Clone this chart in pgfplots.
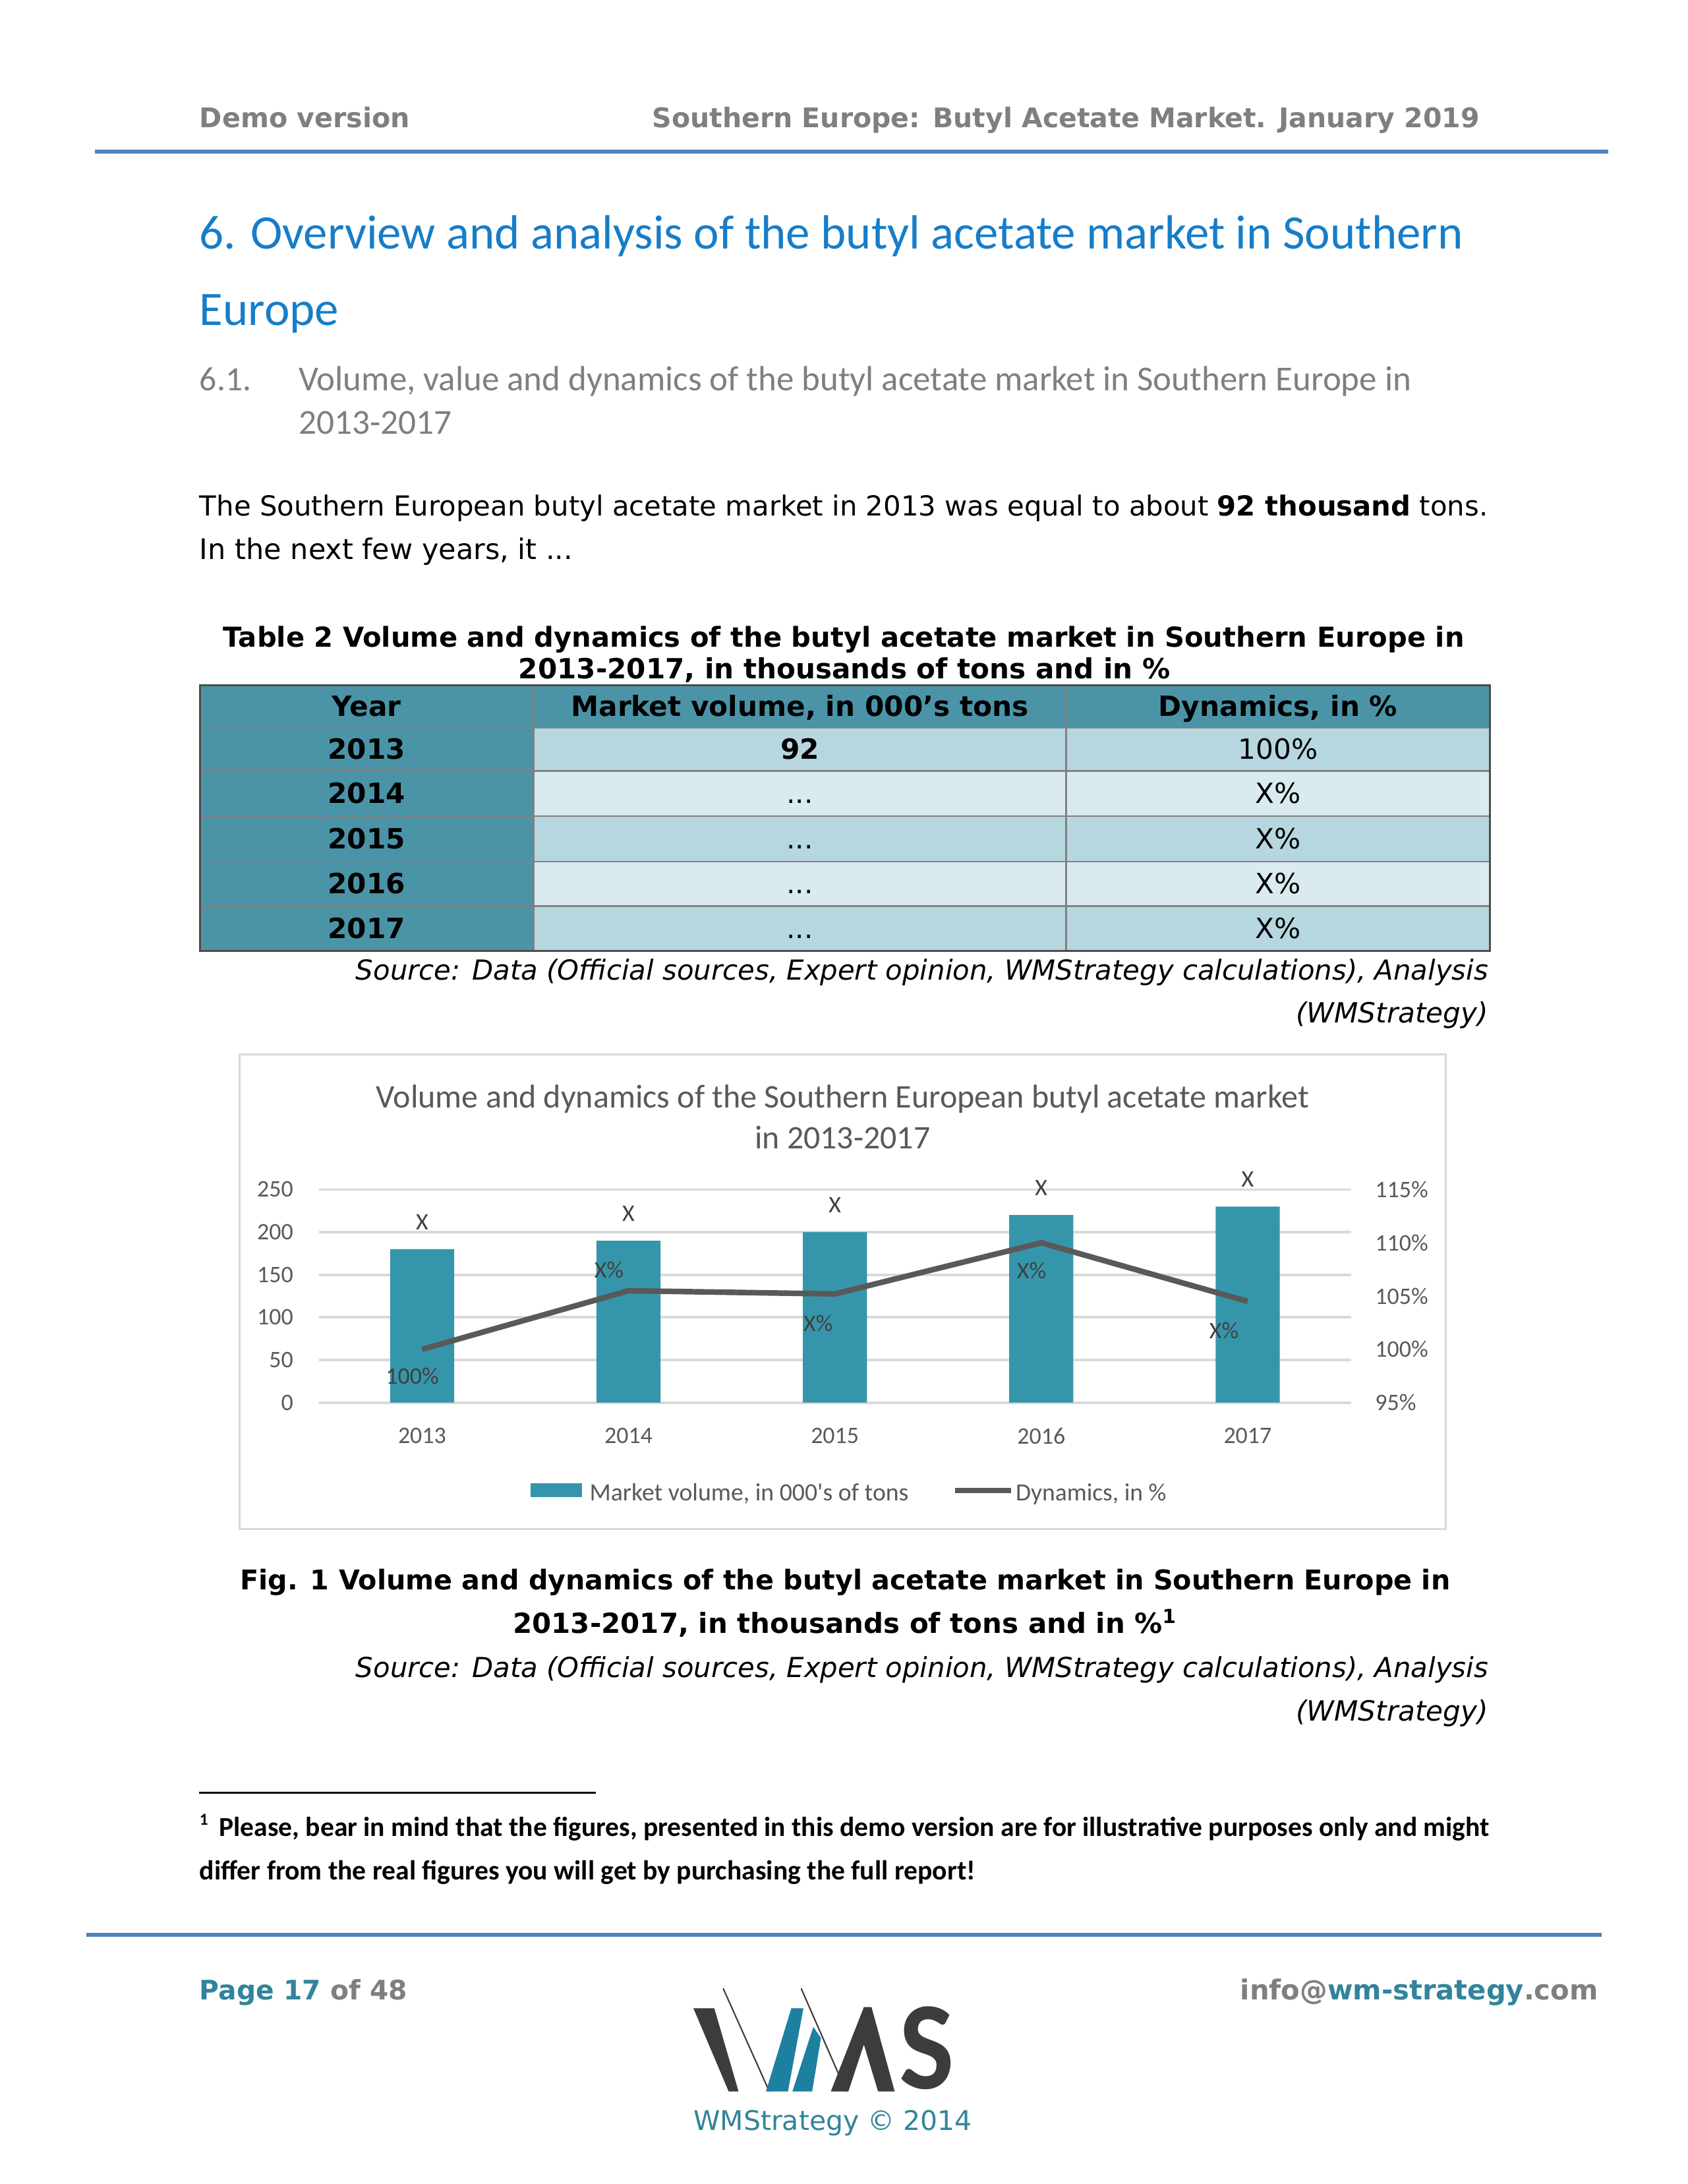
\documentclass[border=0pt]{standalone}
\usepackage{fontspec}
\usepackage{graphicx}
\usepackage{pgfplots}
\pgfplotsset{compat=1.18}
\setmainfont{DejaVu Sans}
\newfontfamily\calib{Carlito}
\definecolor{hdrgray}{RGB}{127,127,127}
\definecolor{rulec}{RGB}{79,129,189}
\definecolor{titleblue}{RGB}{22,125,200}
\definecolor{tabteal}{RGB}{75,148,168}
\definecolor{rowA}{RGB}{183,215,224}
\definecolor{rowB}{RGB}{218,235,239}
\definecolor{barc}{RGB}{53,150,171}
\definecolor{linec}{RGB}{89,89,89}
\definecolor{txtc}{RGB}{89,89,89}
\definecolor{lblc}{RGB}{64,64,64}
\definecolor{gridc}{RGB}{217,217,217}
\definecolor{footteal}{RGB}{49,132,155}
\definecolor{logodark}{RGB}{60,60,60}
\definecolor{logoteal}{RGB}{30,128,160}
\newdimen\unitw \unitw=0.5pt
\newcommand\TL[4]{\node[anchor=mid west,inner sep=0pt,yshift=-1pt] at (#1,#2) {\resizebox{#3\unitw}{!}{#4}};}
\newcommand\TR[4]{\node[anchor=mid east,inner sep=0pt,yshift=-1pt] at (#1,#2) {\resizebox{#3\unitw}{!}{#4}};}
\newcommand\TC[4]{\node[anchor=mid,inner sep=0pt,yshift=-1pt] at (#1,#2) {\resizebox{#3\unitw}{!}{#4}};}
\newcommand\tabfont{\fontsize{10}{12}\selectfont}
\newcommand\chfont{\calib\fontsize{8.5}{10}\selectfont}
\begin{document}
\begin{tikzpicture}
\begin{scope}[x=0.5pt,y=-0.5pt]
\fill[white] (0,0) rectangle (1212,1568);
% header
\TL{143}{84}{151}{\color{hdrgray}\bfseries Demo version}
\TL{468}{84}{594}{\color{hdrgray}\bfseries Southern Europe: Butyl Acetate Market. January 2019}
\draw[rulec, line width=1.5pt] (68,109) -- (1155,109);
% title
\TL{143}{171}{907}{\calib\color{titleblue}6. Overview and analysis of the butyl acetate market in Southern}
\TL{143}{226}{100}{\calib\color{titleblue}Europe}
\TL{143}{273}{37}{\calib\color{hdrgray}6.1.}
\TL{214}{273}{799}{\calib\color{hdrgray}Volume, value and dynamics of the butyl acetate market in Southern Europe in}
\TL{214}{304}{110}{\calib\color{hdrgray}2013-2017}
% body
\TL{143}{363}{925}{The Southern European butyl acetate market in 2013 was equal to about \textbf{92 thousand} tons.}
\TL{143}{394}{268}{In the next few years, it ...}
% table caption
\TL{160}{457}{891}{\bfseries Table 2 Volume and dynamics of the butyl acetate market in Southern Europe in}
\TL{372}{480}{468}{\bfseries 2013-2017, in thousands of tons and in \%}
% table
\fill[tabteal] (143.5,492.2) rectangle (1069.9,522.6);
\fill[tabteal] (143.5,522.6) rectangle (383.2,682.8);
\fill[rowA] (383.2,522.6) rectangle (1069.9,553.4);
\fill[rowB] (383.2,553.4) rectangle (1069.9,585.9);
\fill[rowA] (383.2,585.9) rectangle (1069.9,618.5);
\fill[rowB] (383.2,618.5) rectangle (1069.9,650.6);
\fill[rowA] (383.2,650.6) rectangle (1069.9,682.8);
\foreach \yy in {522.6,553.4,585.9,618.5,650.6}{\draw[gray, line width=0.6pt] (143.5,\yy) -- (1069.9,\yy);}
\foreach \xx in {383.2,765.5}{\draw[gray, line width=0.6pt] (\xx,492.2) -- (\xx,682.8);}
\draw[black!70, line width=0.7pt] (143.5,492.2) rectangle (1069.9,682.8);
\begin{scope}[every node/.style={anchor=base, inner sep=0pt, font=\tabfont}]
\node[font=\tabfont\bfseries] at (263.3,514.4) {Year};
\node[font=\tabfont\bfseries] at (574.4,514.4) {Market volume, in 000’s tons};
\node[font=\tabfont\bfseries] at (917.7,514.4) {Dynamics, in \%};
\node[font=\tabfont\bfseries] at (263.3,545) {2013};
\node[font=\tabfont\bfseries] at (263.3,576.6) {2014};
\node[font=\tabfont\bfseries] at (263.3,609.2) {2015};
\node[font=\tabfont\bfseries] at (263.3,641.5) {2016};
\node[font=\tabfont\bfseries] at (263.3,673.7) {2017};
\node[font=\tabfont\bfseries] at (574.4,545) {92};
\node at (574.4,576.6) {...};
\node at (574.4,609.2) {...};
\node at (574.4,641.5) {...};
\node at (574.4,673.7) {...};
\node at (917.7,545) {100\%};
\node at (917.7,576.6) {X\%};
\node at (917.7,609.2) {X\%};
\node at (917.7,641.5) {X\%};
\node at (917.7,673.7) {X\%};
\end{scope}
\TR{1069}{696}{813}{\itshape Source: Data (Official sources, Expert opinion, WMStrategy calculations), Analysis}
\TR{1069}{727}{138}{\itshape (WMStrategy)}
% chart frame and title
\draw[gridc, line width=0.7pt] (172,757) rectangle (1038,1098);
\TC{605}{788}{670}{\calib\color{txtc}Volume and dynamics of the Southern European butyl acetate market}
\TC{605}{817}{126}{\calib\color{txtc}in 2013-2017}
% legend
\fill[barc] (381,1065) rectangle (418,1075);
\TL{423}{1070}{229}{\calib\color{txtc}Market volume, in 000's of tons}
\draw[linec, line width=2pt] (686,1070) -- (726,1070);
\TL{729}{1070}{108}{\calib\color{txtc}Dynamics, in \%}
% fig caption
\TL{172}{1134}{869}{\bfseries Fig. 1 Volume and dynamics of the butyl acetate market in Southern Europe in}
\TL{368}{1165}{477}{\bfseries 2013-2017, in thousands of tons and in \%\textsuperscript{1}}
\TR{1069}{1197}{813}{\itshape Source: Data (Official sources, Expert opinion, WMStrategy calculations), Analysis}
\TR{1069}{1228}{138}{\itshape (WMStrategy)}
% footnote
\draw[black, line width=0.7pt] (143,1287) -- (428,1287);
\node[anchor=mid west, inner sep=0pt, font=\calib\bfseries\fontsize{6}{7}\selectfont] at (143,1305) {1};
\TL{157}{1311}{912}{\calib\bfseries Please, bear in mind that the figures, presented in this demo version are for illustrative purposes only and might}
\TL{143}{1342}{557}{\calib\bfseries differ from the real figures you will get by purchasing the full report!}
% footer
\draw[rulec, line width=1.5pt] (62,1389) -- (1150,1389);
\TL{143}{1428}{149}{\bfseries\color{footteal}Page 17 \color{hdrgray}of 48}
\TR{1148}{1428}{257}{\bfseries\color{hdrgray}info@\color{footteal}wm-strategy\color{hdrgray}.com}
% logo
\fill[logodark] (497.9,1441.8) -- (512.9,1441.8) -- (530.3,1501.5) -- (523.2,1501.5) -- cycle;
\draw[logodark, line width=0.5pt] (519.3,1427.6) -- (552.4,1501.5);
\fill[logoteal] (550.0,1501.5) -- (565.8,1501.5) -- (576.9,1441.8) -- (568.2,1441.8) -- cycle;
\fill[logoteal] (569.0,1501.5) -- (583.2,1501.5) -- (589.5,1463.1) -- (584.0,1455.2) -- cycle;
\draw[logodark, line width=0.5pt] (575.3,1427.6) -- (607.6,1501.5);
\fill[logodark] (596.6,1501.5) -- (620.3,1441) -- (625.8,1441) -- (642.4,1501.5) -- (630.5,1501.5) -- (620.3,1467.8) -- (609.2,1501.5) -- cycle;
\node[anchor=south west, inner sep=0pt] at (645.5,1500.5) {\resizebox{39.5\unitw}{59\unitw}{\calib\bfseries\color{logodark}S}};
\TC{598}{1522}{200}{\color{footteal}WMStrategy © 2014}
\end{scope}
% chart axes
\begin{axis}[
  at={(114.5pt,-503.5pt)}, anchor=south west,
  scale only axis, width=370.5pt, height=76.5pt,
  xmin=-0.5, xmax=4.5, ymin=0, ymax=250,
  ytick={0,50,100,150,200,250},
  xtick={0,1,2,3,4}, xticklabels={2013,2014,2015,2016,2017},
  axis line style={draw=none}, major tick length=0pt,
  ymajorgrids, grid style={gridc, line width=0.9pt},
  tick label style={font=\chfont, text=txtc},
  xticklabel style={yshift=-5.5pt},
  yticklabel style={xshift=-5.7pt},
  /pgf/number format/assume math mode=true,
  clip=false,
]
\addplot[ybar, bar width=23pt, fill=barc, draw=none] coordinates {(0,180) (1,190) (2,200) (3,220) (4,230)};
\node[font=\chfont, text=lblc] at (axis cs:0,180) [yshift=9.7pt] {X};
\node[font=\chfont, text=lblc] at (axis cs:1,190) [yshift=9.7pt] {X};
\node[font=\chfont, text=lblc] at (axis cs:2,200) [yshift=9.7pt] {X};
\node[font=\chfont, text=lblc] at (axis cs:3,220) [yshift=9.7pt] {X};
\node[font=\chfont, text=lblc] at (axis cs:4,230) [yshift=9.7pt] {X};
\end{axis}
\begin{axis}[
  at={(114.5pt,-503.5pt)}, anchor=south west,
  scale only axis, width=370.5pt, height=76.5pt,
  xmin=-0.5, xmax=4.5, ymin=95, ymax=115,
  ytick={95,100,105,110,115},
  yticklabel={\pgfmathprintnumber{\tick}\%},
  axis y line*=right, hide x axis,
  axis line style={draw=none}, major tick length=0pt,
  tick label style={font=\chfont, text=txtc},
  yticklabel style={xshift=5.2pt},
  /pgf/number format/assume math mode=true,
  clip=false,
]
\addplot[linec, line width=2pt, mark=none] coordinates {(0,100) (1,105.5) (2,105.2) (3,110) (4,104.5)};
\node[font=\chfont, text=lblc] at (axis cs:0,100) [xshift=-3.5pt, yshift=-9.5pt] {100\%};
\node[font=\chfont, text=lblc] at (axis cs:1,105.5) [xshift=-7pt, yshift=7.5pt] {X\%};
\node[font=\chfont, text=lblc] at (axis cs:2,105.2) [xshift=-6pt, yshift=-10.5pt] {X\%};
\node[font=\chfont, text=lblc] at (axis cs:3,110) [xshift=-3.5pt, yshift=-10pt] {X\%};
\node[font=\chfont, text=lblc] at (axis cs:4,104.5) [xshift=-8.5pt, yshift=-10.5pt] {X\%};
\end{axis}
\end{tikzpicture}
\end{document}
